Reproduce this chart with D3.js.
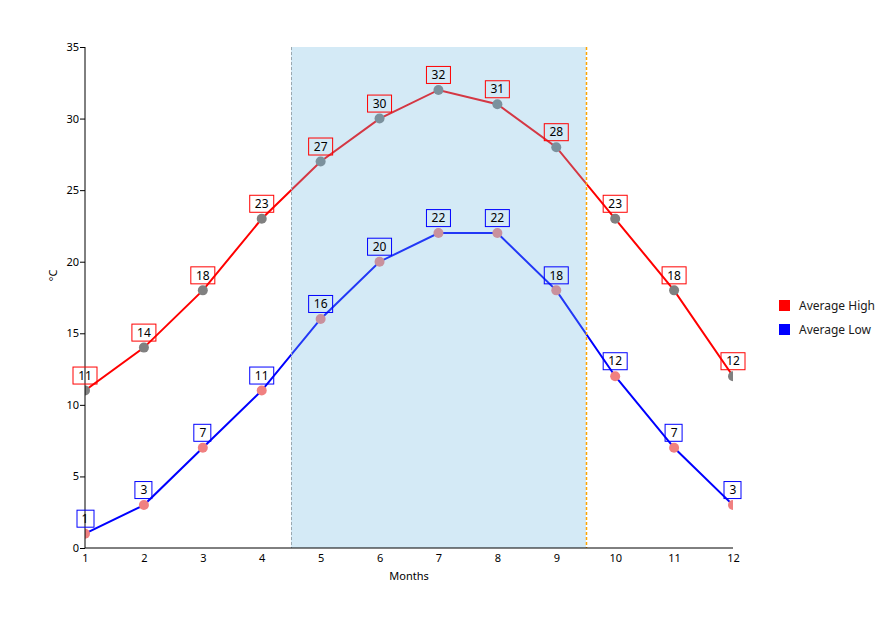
<!DOCTYPE html>
<html>
<head>
<meta charset="utf-8">
<script src="https://cdn.jsdelivr.net/npm/d3@7"></script>
<style>
  body { margin: 0; background: #fff; }
  text { font-family: "Noto Sans", "DejaVu Sans", sans-serif; }
</style>
</head>
<body>
<div id="chart"></div>
<script>
// data
var months = [1, 2, 3, 4, 5, 6, 7, 8, 9, 10, 11, 12];
var avgHigh = [11, 14, 18, 23, 27, 30, 32, 31, 28, 23, 18, 12];
var avgLow = [1, 3, 7, 11, 16, 20, 22, 22, 18, 12, 7, 3];
var yTicks = [0, 5, 10, 15, 20, 25, 30, 35];
var band = [4.5, 9.5];

var series = [
  { name: "Average High", values: avgHigh, color: "#ff0000", marker: "#808080" },
  { name: "Average Low", values: avgLow, color: "#0000ff", marker: "#f08080" }
];

var margin = {top: 47, right: 154, bottom: 87, left: 85},
    width = 887 - margin.left - margin.right,
    height = 635 - margin.top - margin.bottom;

var svg = d3.select("#chart")
  .append("svg")
    .attr("width", 887)
    .attr("height", 635)
  .append("g")
    .attr("transform", "translate(" + margin.left + "," + margin.top + ")");

var xScale = d3.scaleLinear().domain([1, 12]).range([0, width]);
var yScale = d3.scaleLinear().domain([0, 35]).range([height, 0]);

svg.append("clipPath").attr("id", "plotclip")
  .append("rect").attr("width", width).attr("height", height);

var plot = svg.append("g").attr("clip-path", "url(#plotclip)");

var line = d3.line()
    .x(function(d, i) { return xScale(months[i]); })
    .y(function(d) { return yScale(d); });

// lines
series.forEach(function(s) {
  plot.append("path")
    .datum(s.values)
    .attr("d", line)
    .attr("fill", "none")
    .attr("stroke", s.color)
    .attr("stroke-width", 2);
});

// markers
series.forEach(function(s) {
  plot.selectAll(null)
    .data(s.values)
    .enter()
    .append("circle")
    .attr("cx", function(d, i) { return xScale(months[i]); })
    .attr("cy", function(d) { return yScale(d); })
    .attr("r", 5)
    .attr("fill", s.marker);
});

// shaded strip drawn over the series
var bx0 = Math.round(xScale(band[0])), bx1 = Math.round(xScale(band[1]));
svg.append("rect")
  .attr("x", bx0)
  .attr("y", 0)
  .attr("width", bx1 - bx0)
  .attr("height", height)
  .attr("fill", "rgba(112,185,225,0.3)");

svg.append("line")
  .attr("x1", bx0 + 0.5).attr("x2", bx0 + 0.5)
  .attr("y1", 0).attr("y2", height)
  .attr("stroke", "#9aa8b0").attr("stroke-width", 1)
  .attr("stroke-dasharray", "3,2");

svg.append("line")
  .attr("x1", bx1 + 0.5).attr("x2", bx1 + 0.5)
  .attr("y1", 0).attr("y2", height)
  .attr("stroke", "#ffa500").attr("stroke-width", 1.5)
  .attr("stroke-dasharray", "3,2");

// axes
var yAxis = svg.append("g")
  .call(d3.axisLeft(yScale).tickValues(yTicks).tickSize(5).tickPadding(1));
yAxis.selectAll("text").style("font-size", "11px").attr("fill", "#000");
yAxis.select(".domain").attr("stroke", "#000").attr("d", "M0,0V" + height);

var xAxis = svg.append("g")
  .attr("transform", "translate(0," + height + ")")
  .call(d3.axisBottom(xScale).tickValues(months).tickSize(0).tickPadding(6));
xAxis.selectAll("text").style("font-size", "11px").attr("fill", "#000");
xAxis.select(".domain").attr("stroke", "#000").attr("d", "M0,0H" + width);

svg.append("text")
  .attr("transform", "translate(-28," + (height / 2 - 22) + ") rotate(-90)")
  .attr("text-anchor", "middle")
  .style("font-size", "11px")
  .text("°C");

svg.append("text")
  .attr("x", xScale(6.5))
  .attr("y", height + 32)
  .attr("text-anchor", "middle")
  .style("font-size", "11px")
  .text("Months");

// point labels
series.forEach(function(s) {
  var g = svg.selectAll(null)
    .data(s.values)
    .enter()
    .append("g")
    .attr("transform", function(d, i) {
      return "translate(" + xScale(months[i]) + "," + (yScale(d) - 15) + ")";
    });
  g.append("text")
    .attr("text-anchor", "middle")
    .attr("dy", "0.35em")
    .style("font-size", "12px")
    .attr("fill", "#000")
    .text(function(d) { return d; });
  g.each(function() {
    var bb = d3.select(this).select("text").node().getBBox();
    d3.select(this).insert("rect", "text")
      .attr("x", -Math.round(bb.width / 2) - 5)
      .attr("y", -8.5)
      .attr("width", Math.round(bb.width) + 10)
      .attr("height", 17)
      .attr("fill", "none")
      .attr("stroke", s.color)
      .attr("stroke-width", 1);
  });
});

// legend
var legend = svg.append("g")
  .attr("transform", "translate(" + (width + 46) + "," + 253 + ")");
series.forEach(function(s, i) {
  var row = legend.append("g").attr("transform", "translate(0," + (i * 24) + ")");
  row.append("rect")
    .attr("width", 11).attr("height", 11)
    .attr("fill", s.color);
  row.append("text")
    .attr("x", 20).attr("y", 6)
    .attr("dy", "0.35em")
    .style("font-size", "12px")
    .attr("fill", "#1a1a1a")
    .text(s.name);
});
</script>
</body>
</html>
